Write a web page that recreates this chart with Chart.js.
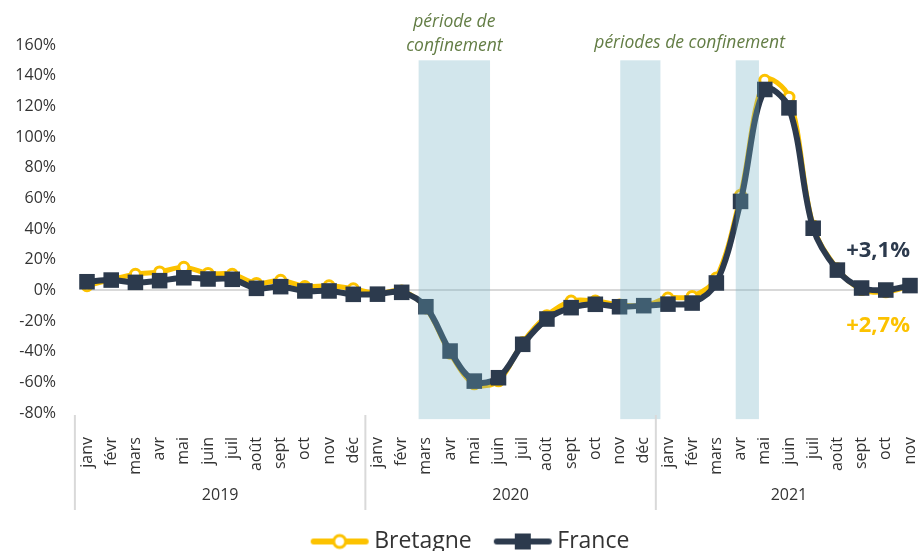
<!DOCTYPE html>
<html>
<head>
<meta charset="utf-8">
<script src="https://cdn.jsdelivr.net/npm/chart.js@4.4.1/dist/chart.umd.min.js"></script>
<style>
  html, body { margin: 0; padding: 0; overflow: hidden; background: #fff; }
  #wrap { width: 921px; height: 563px; position: relative; }
</style>
</head>
<body>
<div id="wrap"><canvas id="myChart"></canvas></div>
<script>
// categories
const monthNames = ['janv', 'févr', 'mars', 'avr', 'mai', 'juin', 'juil', 'août', 'sept', 'oct', 'nov', 'déc'];
const years = ['2019', '2020', '2021'];
const monthsPerYear = [12, 12, 11];

// series values (% change)
const bretagne = [
  3, 7, 10.5, 12, 15, 11, 10.5, 4.5, 6.5, 2.5, 3, 1,
  -2, -0.5, -11.5, -41, -61, -59, -34, -16.5, -7, -7, -9.5, -10,
  -5, -4, 8, 62, 137, 126, 42, 14, 0.5, -1, 2.7
];
const france = [
  5.6, 6.7, 5.2, 6.3, 8.2, 7.4, 7.2, 1.3, 2.4, -0.4, -0.4, -2.6,
  -2.5, -1.3, -10.7, -39.6, -59.2, -57, -35.2, -18.7, -11.3, -9.1, -10.7, -10,
  -9, -8.3, 4.8, 58, 131, 119, 40.5, 13.2, 1.5, 0.2, 3.1
];

// lockdown periods, in category index units
const shadeRanges = [[13.7, 16.65], [22.03, 23.69], [26.8, 27.76]];
const shadeNotes = ['période de\nconfinement', 'périodes de confinement'];

const labels = [];
monthsPerYear.forEach(n => { for (let i = 0; i < n; i++) labels.push(monthNames[i]); });

const YELLOW = '#fcc200';
const NAVY = '#2c3a4d';
const FONT = "'Open Sans', sans-serif";
Chart.defaults.font.family = FONT;
Chart.defaults.font.size = 16;

function legendIcon(color, shape) {
  const c = document.createElement('canvas');
  c.width = 60; c.height = 24;
  const g = c.getContext('2d');
  g.strokeStyle = color; g.lineWidth = 6; g.lineCap = 'round';
  g.beginPath(); g.moveTo(4, 12); g.lineTo(56, 12); g.stroke();
  if (shape === 'circle') {
    g.beginPath(); g.arc(30, 12, 6, 0, Math.PI * 2);
    g.fillStyle = '#fff'; g.fill();
    g.lineWidth = 3; g.stroke();
  } else {
    g.fillStyle = color;
    g.fillRect(22, 4, 16, 16);
  }
  return c;
}
const icons = [legendIcon(YELLOW, 'circle'), legendIcon(NAVY, 'rect')];

const fmt = v => (v > 0 ? '+' : '') + v.toFixed(1).replace('.', ',') + '%';

const overlayPlugin = {
  id: 'overlay',
  afterLayout(chart) {
    // legend sits a little right of centre in the original
    chart.legend.left += 14;
    chart.legend.right += 14;
  },
  afterDatasetsDraw(chart) {
    const { ctx, scales: { x, y } } = chart;
    ctx.save();
    ctx.fillStyle = 'rgba(110,174,194,0.31)';
    const t = y.getPixelForValue(150), b = y.getPixelForValue(-84);
    shadeRanges.forEach(r => {
      const l = x.getPixelForValue(r[0]), rr = x.getPixelForValue(r[1]);
      ctx.fillRect(l, t, rr - l, b - t);
    });
    ctx.restore();
  },
  afterDraw(chart) {
    const { ctx, chartArea, scales: { x, y } } = chart;
    ctx.save();
    // notes above the shaded periods
    ctx.fillStyle = '#637d45';
    ctx.font = 'italic 17.5px ' + FONT;
    ctx.textAlign = 'center';
    ctx.textBaseline = 'middle';
    const c1 = (x.getPixelForValue(shadeRanges[0][0]) + x.getPixelForValue(shadeRanges[0][1])) / 2;
    shadeNotes[0].split('\n').forEach((line, i) => ctx.fillText(line, c1, 22 + i * 24));
    const c2 = (x.getPixelForValue(shadeRanges[1][0]) + x.getPixelForValue(shadeRanges[2][1])) / 2;
    ctx.fillText(shadeNotes[1], c2, 43);

    // end-of-series labels
    const last = labels.length - 1;
    ctx.font = 'bold 22px ' + FONT;
    ctx.textAlign = 'right';
    ctx.fillStyle = NAVY;
    ctx.fillText(fmt(france[last]), chartArea.right, y.getPixelForValue(france[last]) - 35);
    ctx.fillStyle = YELLOW;
    ctx.fillText(fmt(bretagne[last]), chartArea.right, y.getPixelForValue(bretagne[last]) + 40);

    // year row with separators
    ctx.strokeStyle = '#d9d9d9';
    ctx.lineWidth = 2;
    ctx.fillStyle = '#333';
    ctx.font = '16px ' + FONT;
    ctx.textAlign = 'center';
    let start = 0;
    const top = chartArea.bottom + 2, bottom = chartArea.bottom + 97;
    const edge = x.getPixelForValue(-0.5);
    ctx.beginPath(); ctx.moveTo(edge, top); ctx.lineTo(edge, bottom); ctx.stroke();
    years.forEach((yr, i) => {
      const end = start + monthsPerYear[i] - 1;
      const l = x.getPixelForValue(start - 0.5), r = x.getPixelForValue(end + 0.5);
      ctx.beginPath(); ctx.moveTo(r, top); ctx.lineTo(r, bottom); ctx.stroke();
      ctx.fillText(yr, (l + r) / 2, chartArea.bottom + 82);
      start = end + 1;
    });
    ctx.restore();
  }
};

const config = {
  type: 'line',
  data: {
    labels: labels,
    datasets: [
      {
        label: 'Bretagne',
        data: bretagne,
        order: 1,
        borderColor: YELLOW,
        backgroundColor: '#fff',
        borderWidth: 5,
        tension: 0.35,
        pointStyle: 'circle',
        pointRadius: 5,
        pointBorderWidth: 3,
        pointBackgroundColor: '#fff',
        pointBorderColor: YELLOW
      },
      {
        label: 'France',
        data: france,
        order: 0,
        borderColor: NAVY,
        backgroundColor: NAVY,
        borderWidth: 6,
        tension: 0.35,
        pointStyle: 'rect',
        pointRadius: 11,
        pointBorderWidth: 0,
        pointBackgroundColor: NAVY
      }
    ]
  },
  options: {
    responsive: true,
    maintainAspectRatio: false,
    animation: false,
    layout: { padding: { top: 45, right: 3, left: 0, bottom: 0 } },
    plugins: {
      tooltip: { enabled: false },
      legend: {
        position: 'bottom',
        labels: {
          usePointStyle: true,
          pointStyleWidth: 46,
          padding: 28,
          color: '#333',
          font: { family: FONT, size: 23 },
          sort: (a, b) => a.datasetIndex - b.datasetIndex,
          generateLabels(chart) {
            const items = Chart.defaults.plugins.legend.labels.generateLabels(chart);
            items.forEach(it => { it.pointStyle = icons[it.datasetIndex]; });
            return items;
          }
        }
      }
    },
    scales: {
      x: {
        grid: { display: false },
        border: { display: false },
        ticks: {
          minRotation: 90,
          maxRotation: 90,
          autoSkip: false,
          padding: 16,
          color: '#333',
          font: { family: FONT, size: 16 }
        },
        afterFit(scale) {
          scale.height = 89;
          scale.paddingLeft = 0;
          scale.paddingRight = 0;
        }
      },
      y: {
        min: -80,
        max: 160,
        border: { display: false },
        grid: {
          drawTicks: false,
          lineWidth: 2,
          color: ctx => ctx.tick && ctx.tick.value === 0 ? '#d9d9d9' : 'transparent'
        },
        ticks: {
          stepSize: 20,
          padding: 31,
          color: '#333',
          font: { family: FONT, size: 16 },
          callback: v => v + '%'
        },
        afterFit(scale) { scale.width = 87; }
      }
    }
  },
  plugins: [overlayPlugin]
};

const myChart = new Chart(document.getElementById('myChart'), config);
</script>
</body>
</html>
